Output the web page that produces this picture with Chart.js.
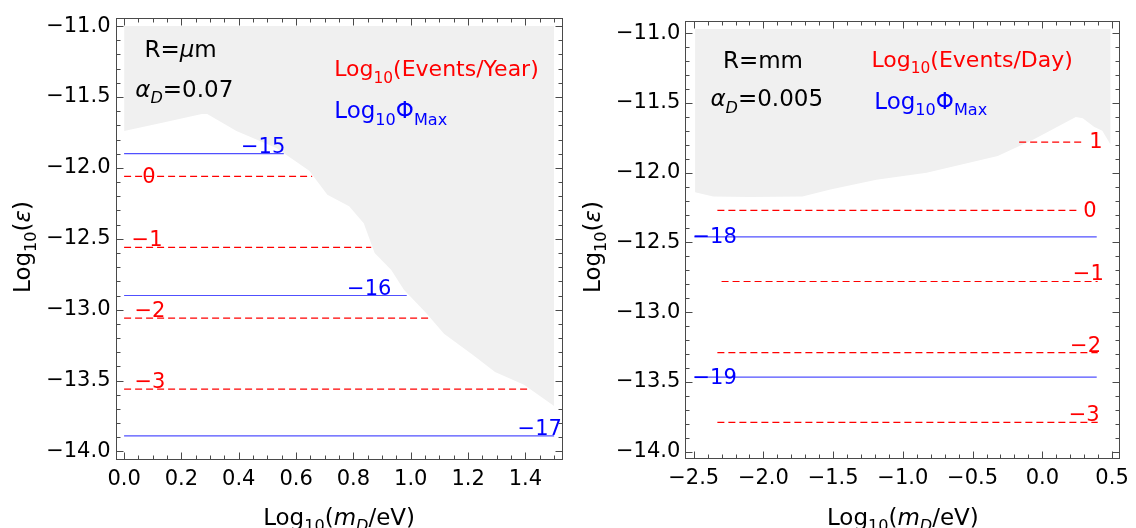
<!DOCTYPE html>
<html>
<head>
<meta charset="utf-8">
<script src="https://cdn.jsdelivr.net/npm/chart.js@4.4.1/dist/chart.umd.min.js"></script>
<style>
  body { margin: 0; background: #fff; }
  .panel { position: absolute; top: 0; height: 528px; }
</style>
</head>
<body>
<div class="panel" style="left:0;width:570px"><canvas id="left"></canvas></div>
<div class="panel" style="left:570px;width:566px"><canvas id="right"></canvas></div>
<script>
"use strict";

// ---- Left panel: R = um, alpha_D = 0.07 ----
const leftXTicks = [0, 0.2, 0.4, 0.6, 0.8, 1.0, 1.2, 1.4];
const leftYTicks = [-14, -13.5, -13, -12.5, -12, -11.5, -11];
// excluded (grey) region, lower boundary
const leftShadeX = [0, 0.137, 0.271, 0.29, 0.392, 0.531, 0.646, 0.709, 0.785, 0.836, 0.874, 0.932, 0.976, 1.052, 1.116, 1.217, 1.294, 1.395, 1.5];
const leftShadeY = [-11.74, -11.68, -11.62, -11.62, -11.74, -11.86, -12.02, -12.19, -12.27, -12.39, -12.60, -12.72, -12.86, -13.02, -13.17, -13.32, -13.44, -13.53, -13.68];
const leftShadeTop = -11.0;
// Log10(Events/Year) contours (red, dashed)
const leftRedLevels = [0, -1, -2, -3];
const leftRedY = [-12.06, -12.56, -13.06, -13.56];
const leftRedStart = [0, 0, 0, 0];
const leftRedEnd = [0.656, 0.862, 1.065, 1.414];
const leftRedLabelX = [0.087, 0.08, 0.09, 0.09];
// Log10 Phi_Max contours (blue, solid)
const leftBlueLevels = [-15, -16, -17];
const leftBlueY = [-11.90, -12.90, -13.89];
const leftBlueStart = [0, 0, 0];
const leftBlueEnd = [0.557, 0.986, 1.5];
const leftBlueLabelX = [0.485, 0.855, 1.45];

// ---- Right panel: R = mm, alpha_D = 0.005 ----
const rightXTicks = [-2.5, -2, -1.5, -1, -0.5, 0, 0.5];
const rightYTicks = [-14, -13.5, -13, -12.5, -12, -11.5, -11];
const rightShadeX = [-2.49, -2.36, -2.10, -1.72, -1.52, -1.19, -0.83, -0.32, -0.06, 0.24, 0.29, 0.37, 0.43, 0.49];
const rightShadeY = [-12.14, -12.17, -12.175, -12.17, -12.12, -12.05, -12.00, -11.88, -11.76, -11.60, -11.61, -11.67, -11.70, -11.80];
const rightShadeTop = -10.97;
// Log10(Events/Day)
const rightRedLevels = [1, 0, -1, -2, -3];
const rightRedY = [-11.78, -12.27, -12.78, -13.29, -13.79];
const rightRedStart = [-0.166, -2.33, -2.30, -2.33, -2.33];
const rightRedEnd = [0.282, 0.257, 0.397, 0.397, 0.397];
const rightRedLabelX = [0.385, 0.341, 0.33, 0.31, 0.30];
// Log10 Phi_Max
const rightBlueLevels = [-18, -19];
const rightBlueY = [-12.46, -13.466];
const rightBlueStart = [-2.495, -2.495];
const rightBlueEnd = [0.39, 0.39];
const rightBlueLabelX = [-2.35, -2.35];

Chart.defaults.font.family = '"DejaVu Sans", sans-serif';
Chart.defaults.color = '#000';
Chart.defaults.animation = false;

const FONT = '"DejaVu Sans", sans-serif';
const FRAME = '#4a4a4a';
const RED = '#ff0000';
const BLUE = '#0000ff';
const SHADE = '#f0f0f0';

function minus(v, digits) {
  const s = digits === undefined ? String(Math.abs(v)) : Math.abs(v).toFixed(digits);
  return v < -1e-9 ? '\u2212' + s : s;
}

// rich text: parts are [text, style] with style containing 'i' (italic) and/or 's' (subscript)
function richWidth(ctx, parts, size) {
  let w = 0;
  for (const [t, st = ''] of parts) {
    const fs = st.includes('s') ? size * 0.7 : size;
    ctx.font = (st.includes('i') ? 'italic ' : '') + fs + 'px ' + FONT;
    w += ctx.measureText(t).width;
  }
  return w;
}
function drawRich(ctx, parts, x, y, size, color) {
  let cx = x;
  ctx.fillStyle = color;
  ctx.textAlign = 'left';
  ctx.textBaseline = 'alphabetic';
  for (const [t, st = ''] of parts) {
    const sub = st.includes('s');
    const fs = sub ? size * 0.7 : size;
    ctx.font = (st.includes('i') ? 'italic ' : '') + fs + 'px ' + FONT;
    ctx.fillText(t, cx, y + (sub ? size * 0.28 : 0));
    cx += ctx.measureText(t).width;
  }
}

const xTitle = [['Log'], ['10', 's'], ['('], ['m', 'i'], ['D', 'is'], ['/eV)']];
const yTitle = [['Log'], ['10', 's'], ['('], ['\u03b5', 'i'], [')']];

function levelLines(levels, ys, x0, x1, color, dash) {
  return levels.map((lv, i) => ({
    data: [{ x: x0[i], y: ys[i] }, { x: x1[i], y: ys[i] }],
    showLine: true,
    borderColor: color,
    borderWidth: 1.2,
    borderDash: dash,
    pointRadius: 0,
    fill: false,
    order: 1
  }));
}

function makePanel(id, p) {
  const shade = {
    data: p.shadeX.map((x, i) => ({ x: x, y: p.shadeY[i] })),
    showLine: true,
    borderWidth: 0,
    borderColor: SHADE,
    backgroundColor: SHADE,
    pointRadius: 0,
    fill: { value: p.shadeTop },
    order: 10
  };
  const datasets = []
    .concat(levelLines(p.blueLevels, p.blueY, p.blueStart, p.blueEnd, 'rgb(80,80,255)', []))
    .concat(levelLines(p.redLevels, p.redY, p.redStart, p.redEnd, RED, [7, 4]))
    .concat([shade]);

  const marks = {
    id: 'marks_' + id,
    afterDatasetsDraw(chart) {
      const { ctx, scales: { x, y } } = chart;
      ctx.save();
      ctx.font = '21px ' + FONT;
      ctx.textAlign = 'center';
      const put = (levels, ys, lx, centred, color) => {
        ctx.fillStyle = color;
        levels.forEach((lv, i) => {
          const px = x.getPixelForValue(lx[i]);
          const py = y.getPixelForValue(ys[i]);
          if (centred[i]) {
            ctx.textBaseline = 'middle';
            ctx.fillText(minus(lv), px, py + 1);
          } else {
            ctx.textBaseline = 'alphabetic';
            ctx.fillText(minus(lv), px, py - 1);
          }
        });
      };
      put(p.redLevels, p.redY, p.redLabelX, p.redCentred, RED);
      put(p.blueLevels, p.blueY, p.blueLabelX, p.blueCentred, BLUE);
      for (const n of p.notes) {
        drawRich(ctx, n.parts, x.getPixelForValue(n.x), y.getPixelForValue(n.y), n.size || 23, n.color);
      }
      ctx.restore();
    },
    afterDraw(chart) {
      const { ctx, chartArea: a, scales: { x, y } } = chart;
      ctx.save();
      // frame with inward ticks on all four sides
      ctx.strokeStyle = FRAME;
      ctx.lineWidth = 1;
      const L = Math.round(a.left) + 0.5, R = Math.round(a.right) - 0.5;
      const T = Math.round(a.top) + 0.5, B = Math.round(a.bottom) - 0.5;
      ctx.strokeRect(L, T, R - L, B - T);
      ctx.beginPath();
      const near = (v, arr) => arr.some(m => Math.abs(m - v) < 1e-6);
      for (let k = Math.ceil(x.min / p.xMinor); k * p.xMinor <= x.max + 1e-9; k++) {
        const v = k * p.xMinor;
        const len = near(v, p.xTicks) ? 7 : 4;
        const px = Math.round(x.getPixelForValue(v)) + 0.5;
        ctx.moveTo(px, B); ctx.lineTo(px, B - len);
        ctx.moveTo(px, T); ctx.lineTo(px, T + len);
      }
      for (let k = Math.ceil(y.min / p.yMinor); k * p.yMinor <= y.max + 1e-9; k++) {
        const v = k * p.yMinor;
        const len = near(v, p.yTicks) ? 7 : 4;
        const py = Math.round(y.getPixelForValue(v)) + 0.5;
        ctx.moveTo(L, py); ctx.lineTo(L + len, py);
        ctx.moveTo(R, py); ctx.lineTo(R - len, py);
      }
      ctx.stroke();
      // axis titles
      const tx = richWidth(ctx, xTitle, 23);
      drawRich(ctx, xTitle, (a.left + a.right) / 2 - tx / 2, 525, 23, '#000');
      const ty = richWidth(ctx, yTitle, 23);
      ctx.translate(30, 247);
      ctx.rotate(-Math.PI / 2);
      drawRich(ctx, yTitle, -ty / 2, 0, 23, '#000');
      ctx.restore();
    }
  };

  return new Chart(document.getElementById(id), {
    type: 'scatter',
    data: { datasets: datasets },
    options: {
      responsive: true,
      maintainAspectRatio: false,
      layout: { padding: { top: p.padTop, right: p.padRight, left: 0, bottom: 0 } },
      plugins: { legend: { display: false }, tooltip: { enabled: false } },
      scales: {
        x: {
          type: 'linear',
          min: p.xMin, max: p.xMax,
          afterBuildTicks: s => { s.ticks = p.xTicks.map(v => ({ value: v })); },
          afterFit: s => { s.height = p.xAxisH; },
          grid: { display: false, drawTicks: false },
          border: { display: false },
          ticks: {
            autoSkip: false, maxRotation: 0, padding: 7,
            font: { size: 21 }, color: '#000',
            callback: v => minus(v, 1)
          }
        },
        y: {
          type: 'linear',
          min: p.yMin, max: p.yMax,
          afterBuildTicks: s => { s.ticks = p.yTicks.map(v => ({ value: v })); },
          afterFit: s => { s.width = p.yAxisW; },
          grid: { display: false, drawTicks: false },
          border: { display: false },
          ticks: {
            autoSkip: false, padding: 5,
            font: { size: 21 }, color: '#000',
            callback: v => minus(v, 1)
          }
        }
      }
    },
    plugins: [marks]
  });
}

makePanel('left', {
  xMin: -0.03, xMax: 1.53, yMin: -14.06, yMax: -10.94,
  xTicks: leftXTicks, yTicks: leftYTicks, xMinor: 0.05, yMinor: 0.1,
  padTop: 13, padRight: 7.3, xAxisH: 68, yAxisW: 115.5,
  shadeX: leftShadeX, shadeY: leftShadeY, shadeTop: leftShadeTop,
  redLevels: leftRedLevels, redY: leftRedY, redStart: leftRedStart, redEnd: leftRedEnd,
  redLabelX: leftRedLabelX, redCentred: [true, false, false, false],
  blueLevels: leftBlueLevels, blueY: leftBlueY, blueStart: leftBlueStart, blueEnd: leftBlueEnd,
  blueLabelX: leftBlueLabelX, blueCentred: [false, false, false],
  notes: [
    { x: 0.071, y: -11.22, color: '#000', parts: [['R='], ['\u03bc', 'i'], ['m']] },
    { x: 0.039, y: -11.50, color: '#000', parts: [['\u03b1', 'i'], ['D', 'is'], ['=0.07']] },
    { x: 0.733, y: -11.355, color: RED, size: 22, parts: [['Log'], ['10', 's'], ['(Events/Year)']] },
    { x: 0.733, y: -11.65, color: BLUE, parts: [['Log'], ['10', 's'], ['\u03a6'], ['Max', 's']] }
  ]
});

makePanel('right', {
  xMin: -2.56, xMax: 0.56, yMin: -14.055, yMax: -10.91,
  xTicks: rightXTicks, yTicks: rightYTicks, xMinor: 0.1, yMinor: 0.1,
  padTop: 20.7, padRight: 12.7, xAxisH: 68.7, yAxisW: 115.3,
  shadeX: rightShadeX, shadeY: rightShadeY, shadeTop: rightShadeTop,
  redLevels: rightRedLevels, redY: rightRedY, redStart: rightRedStart, redEnd: rightRedEnd,
  redLabelX: rightRedLabelX, redCentred: [true, true, false, false, false],
  blueLevels: rightBlueLevels, blueY: rightBlueY, blueStart: rightBlueStart, blueEnd: rightBlueEnd,
  blueLabelX: rightBlueLabelX, blueCentred: [true, true],
  notes: [
    { x: -2.29, y: -11.25, color: '#000', parts: [['R=mm']] },
    { x: -2.38, y: -11.525, color: '#000', parts: [['\u03b1', 'i'], ['D', 'is'], ['=0.005']] },
    { x: -1.225, y: -11.24, color: RED, size: 22, parts: [['Log'], ['10', 's'], ['(Events/Day)']] },
    { x: -1.205, y: -11.54, color: BLUE, parts: [['Log'], ['10', 's'], ['\u03a6'], ['Max', 's']] }
  ]
});
</script>
</body>
</html>
